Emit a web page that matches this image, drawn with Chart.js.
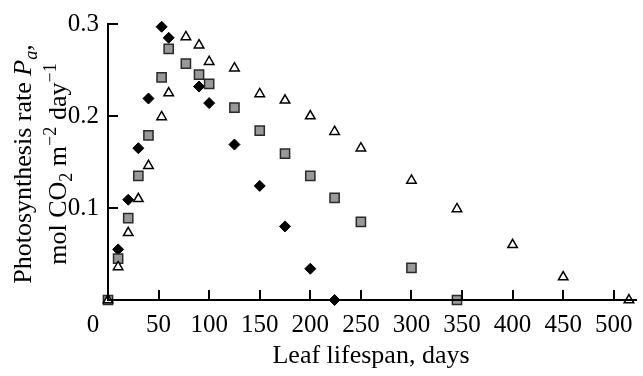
<!DOCTYPE html>
<html>
<head>
<meta charset="utf-8">
<script src="https://cdn.jsdelivr.net/npm/chart.js@4.4.1/dist/chart.umd.min.js"></script>
<style>
    html, body { margin: 0; padding: 0; background: #fff; }
    #grafico-wrap { position: relative; width: 643px; height: 376px; }
    #grafico-wrap canvas { position: absolute; left: 0; top: 0; }
    .eixo { position: absolute; background: #000; }
</style>
</head>
<body>
<div id="grafico-wrap"><canvas id="grafico" width="643" height="376"></canvas></div>
<script>
const FONTE = "'Liberation Serif', 'Times New Roman', serif";

// valores: vida da folha (dias) x taxa de fotossintese
const diasLosango = [10, 20, 30, 40, 53, 60, 90, 100, 125, 150, 175, 200, 224];
const taxaLosango = [0.055, 0.109, 0.165, 0.219, 0.297, 0.285, 0.232, 0.214, 0.169, 0.124, 0.080, 0.034, 0];

const diasQuadrado = [0, 10, 20, 30, 40, 53, 60, 77, 90, 100, 125, 150, 175, 200, 224, 250, 300, 345];
const taxaQuadrado = [0, 0.045, 0.089, 0.135, 0.179, 0.242, 0.273, 0.257, 0.245, 0.235, 0.209, 0.184, 0.159, 0.135, 0.111, 0.085, 0.035, 0];

const diasTriangulo = [0, 10, 20, 30, 40, 53, 60, 77, 90, 100, 125, 150, 175, 200, 224, 250, 300, 345, 400, 450, 515];
const taxaTriangulo = [0, 0.036, 0.073, 0.110, 0.146, 0.199, 0.225, 0.286, 0.277, 0.259, 0.252, 0.224, 0.217, 0.200, 0.183, 0.165, 0.130, 0.099, 0.060, 0.025, 0];

const ticksX = [0, 50, 100, 150, 200, 250, 300, 350, 400, 450, 500];
const ticksY = [0.1, 0.2, 0.3];

function juntarPontos(dias, taxa) {
    return dias.map((d, i) => ({ x: d, y: taxa[i] }));
}

// desenha texto com sub/sobrescrito, girado, centrado em (x, y)
function desenharTextoRico(ctx, partes, x, y, tamanho) {
    ctx.save();
    ctx.translate(x, y);
    ctx.rotate(-Math.PI / 2);
    ctx.textBaseline = "alphabetic";
    ctx.textAlign = "left";
    ctx.fillStyle = "#000";

    let total = 0;
    partes.forEach(p => {
        const t = p.menor ? tamanho * 0.7 : tamanho;
        ctx.font = `${p.italico ? "italic " : ""}${t}px ${FONTE}`;
        total += ctx.measureText(p.texto).width;
    });

    let pos = -total / 2;
    partes.forEach(p => {
        const t = p.menor ? tamanho * 0.7 : tamanho;
        ctx.font = `${p.italico ? "italic " : ""}${t}px ${FONTE}`;
        ctx.fillText(p.texto, pos, (p.dy || 0) * tamanho);
        pos += ctx.measureText(p.texto).width;
    });
    ctx.restore();
}

// linhas dos eixos e marcas de escala como elementos sobre o canvas
function posicionarEixos(chart) {
    const wrap = document.getElementById("grafico-wrap");
    wrap.querySelectorAll(".eixo").forEach(el => el.remove());

    const { chartArea, scales } = chart;
    const tamTick = 10;
    const esq = Math.round(chartArea.left);
    const base = Math.round(chartArea.bottom);
    const dir = Math.round(chartArea.right);
    const topo = Math.round(chartArea.top);

    const retangulos = [
        [esq - 1, topo - 1, 2, base - topo + 2],
        [esq - 1, base - 1, dir - esq + 4, 2]
    ];
    ticksX.forEach(v => {
        if (v === 0) return;
        const px = Math.round(scales.x.getPixelForValue(v));
        retangulos.push([px - 1, base - tamTick, 2, tamTick]);
    });
    ticksY.forEach(v => {
        const py = Math.round(scales.y.getPixelForValue(v));
        retangulos.push([esq, py - 1, tamTick, 2]);
    });

    retangulos.forEach(([x, y, w, h]) => {
        const el = document.createElement("div");
        el.className = "eixo";
        el.style.left = x + "px";
        el.style.top = y + "px";
        el.style.width = w + "px";
        el.style.height = h + "px";
        wrap.appendChild(el);
    });
}

const extrasEixos = {
    id: "extrasEixos",
    afterDraw(chart) {
        const { ctx, chartArea, scales } = chart;

        // o "0" do eixo x fica deslocado para a esquerda
        ctx.save();
        ctx.fillStyle = "#000";
        ctx.font = `25px ${FONTE}`;
        ctx.textAlign = "center";
        ctx.textBaseline = "middle";
        ctx.fillText("0", scales.x.getPixelForValue(0) - 15, chartArea.bottom + 25);
        ctx.restore();

        const centroY = (chartArea.top + chartArea.bottom) / 2 + 2;
        desenharTextoRico(ctx, [
            { texto: "Photosynthesis rate " },
            { texto: "P", italico: true },
            { texto: "a", italico: true, menor: true, dy: 0.22 },
            { texto: "," }
        ], 31, centroY, 26);
        desenharTextoRico(ctx, [
            { texto: "mol CO" },
            { texto: "2", menor: true, dy: 0.22 },
            { texto: " m" },
            { texto: "\u22122", menor: true, dy: -0.38 },
            { texto: " day" },
            { texto: "\u22121", menor: true, dy: -0.38 }
        ], 66, centroY, 26);
    },
    afterRender(chart) {
        posicionarEixos(chart);
    }
};

const grafico = new Chart(document.getElementById("grafico"), {
    type: "scatter",
    data: {
        datasets: [
            {
                label: "triangulo",
                data: juntarPontos(diasTriangulo, taxaTriangulo),
                pointStyle: "triangle",
                radius: 5.5,
                backgroundColor: "#ffffff",
                borderColor: "#000000",
                borderWidth: 1.5
            },
            {
                label: "quadrado",
                data: juntarPontos(diasQuadrado, taxaQuadrado),
                pointStyle: "rect",
                radius: 6.5,
                backgroundColor: "#999999",
                borderColor: "#2a2a2a",
                borderWidth: 1.5
            },
            {
                label: "losango",
                data: juntarPontos(diasLosango, taxaLosango),
                pointStyle: "rectRot",
                radius: 5.5,
                backgroundColor: "#000000",
                borderColor: "#000000",
                borderWidth: 1
            }
        ]
    },
    options: {
        responsive: false,
        animation: false,
        devicePixelRatio: 1,
        events: [],
        clip: false,
        layout: {
            padding: { top: 20, right: 9, left: 0, bottom: 0 }
        },
        plugins: {
            legend: { display: false },
            tooltip: { enabled: false }
        },
        scales: {
            x: {
                type: "linear",
                min: 0,
                max: 520,
                afterFit: scale => { scale.height = 76; },
                afterBuildTicks: scale => {
                    scale.ticks = ticksX.map(v => ({ value: v }));
                },
                ticks: {
                    color: "#000",
                    font: { family: FONTE, size: 25 },
                    padding: 10,
                    maxRotation: 0,
                    autoSkip: false,
                    callback: v => (v === 0 ? "" : String(v))
                },
                grid: { drawOnChartArea: false, drawTicks: false },
                border: { display: false },
                title: {
                    display: true,
                    text: "Leaf lifespan, days",
                    color: "#000",
                    font: { family: FONTE, size: 26 },
                    padding: { top: 0, bottom: 4 }
                }
            },
            y: {
                min: 0,
                max: 0.3,
                afterFit: scale => { scale.width = 108; },
                afterBuildTicks: scale => {
                    scale.ticks = ticksY.map(v => ({ value: v }));
                },
                ticks: {
                    color: "#000",
                    font: { family: FONTE, size: 25 },
                    padding: 9,
                    callback: v => v.toFixed(1)
                },
                grid: { drawOnChartArea: false, drawTicks: false },
                border: { display: false }
            }
        }
    },
    plugins: [extrasEixos]
});

posicionarEixos(grafico);
</script>
</body>
</html>
